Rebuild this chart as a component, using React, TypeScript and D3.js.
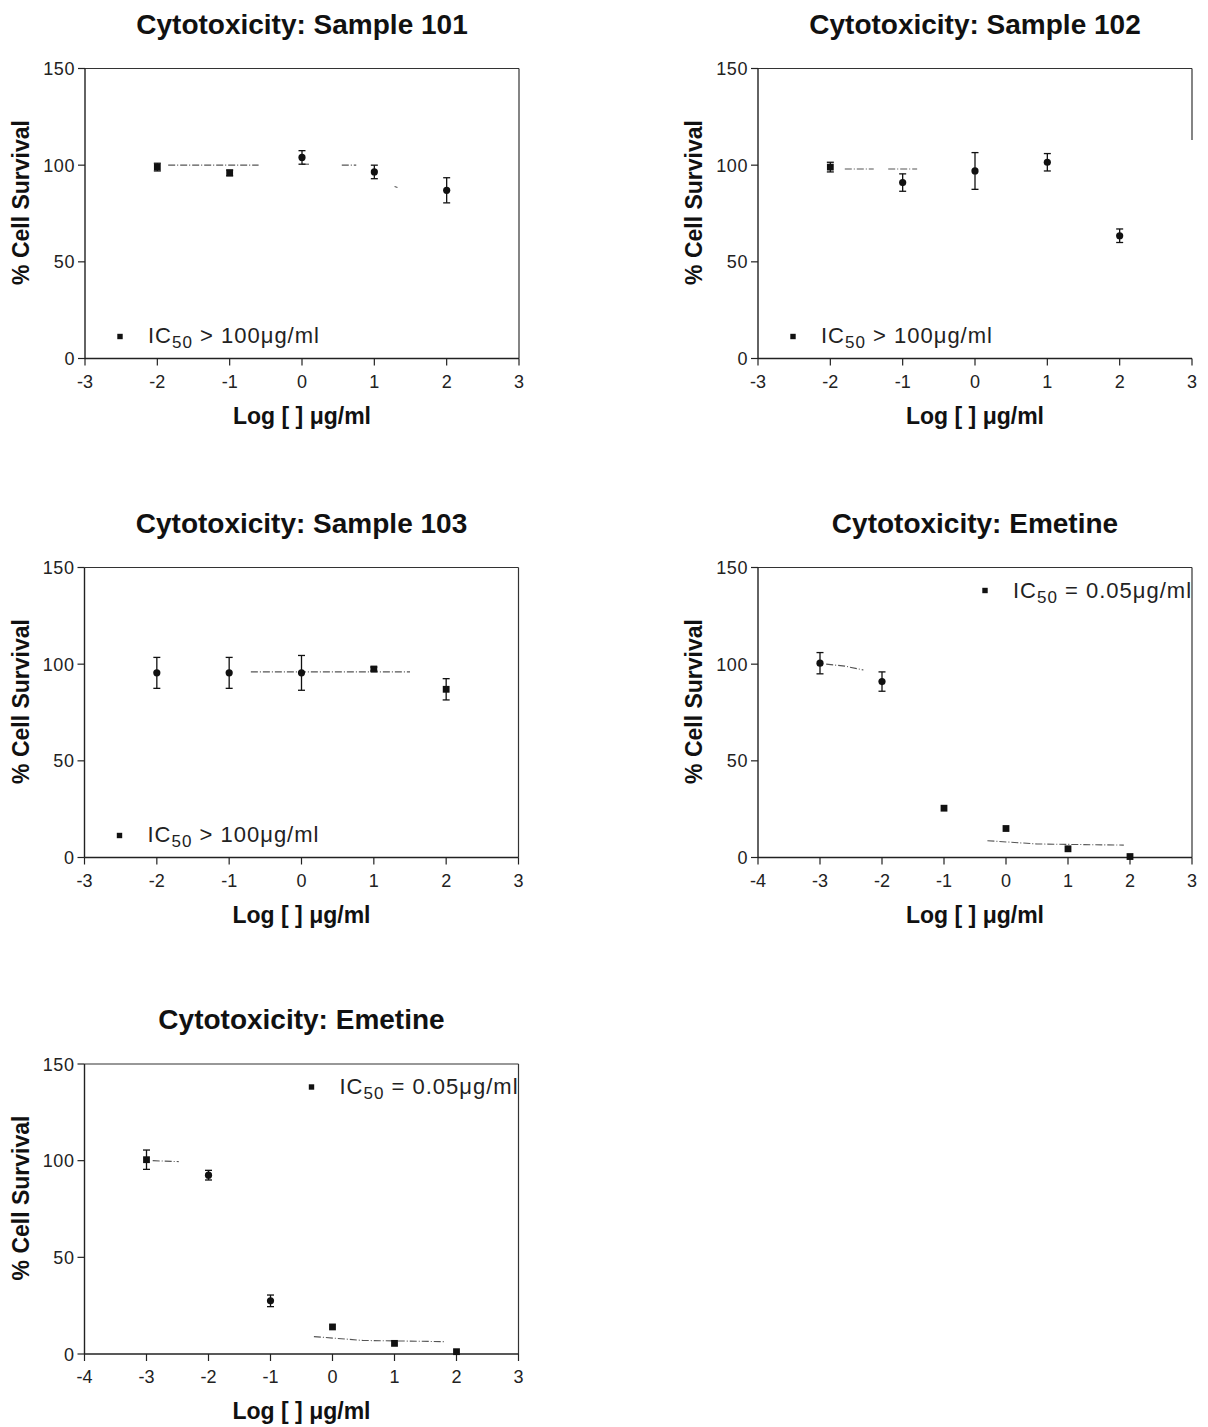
import React from 'react';
import * as d3 from 'd3';

// log concentrations (x) for samples and emetine
const logConcSample = [-2, -1, 0, 1, 2];
const logConcEmetine = [-3, -2, -1, 0, 1, 2];

// % cell survival, +/- error, marker shape
const survival101 = [99, 96, 104, 96.5, 87];
const err101 = [2, 1.5, 3.5, 3.5, 6.5];
const shape101 = ['s', 's', 'c', 'c', 'c'];

const survival102 = [99, 91, 97, 101.5, 63.5];
const err102 = [2.5, 4.5, 9.5, 4.5, 3.5];
const shape102 = ['s', 'c', 'c', 'c', 'c'];

const survival103 = [95.5, 95.5, 95.5, 97.5, 87];
const err103 = [8, 8, 9, 1, 5.5];
const shape103 = ['c', 'c', 'c', 's', 's'];

const survivalEm1 = [100.5, 91, 25.5, 15, 4.5, 0.5];
const errEm1 = [5.5, 5, 0, 0, 0, 0];
const shapeEm1 = ['c', 'c', 's', 's', 's', 's'];

const survivalEm2 = [100.5, 92.5, 27.5, 14, 5.5, 1.2];
const errEm2 = [5, 2.5, 3, 0, 0, 0];
const shapeEm2 = ['s', 'c', 'c', 's', 's', 's'];

// visible fragments of the fitted curves
const fit101 = [[[-1.85, 100], [-0.6, 100]], [[0, 100.5], [0.1, 100.5]], [[0.55, 100], [0.75, 100]], [[1.28, 89], [1.32, 88.5]]];
const fit102 = [[[-1.8, 98], [-1.4, 98]], [[-1.2, 98], [-0.8, 98]]];
const fit103 = [[[-0.7, 96], [1.5, 96]]];
const fitEm1 = [[[-2.9, 100], [-2.6, 99], [-2.3, 97]], [[-0.3, 8.7], [0.5, 7], [1.9, 6.4]]];
const fitEm2 = [[[-2.9, 100], [-2.48, 99.5]], [[-0.3, 9], [0.5, 7], [1.8, 6.4]]];

const yTicks = [0, 50, 100, 150];

const panels = [
  { title: 'Cytotoxicity: Sample 101', x: logConcSample, y: survival101, e: err101, s: shape101, fit: fit101, xDom: [-3, 3], legend: 'gt', pos: 'bl', left: 85, top: 68.5 },
  { title: 'Cytotoxicity: Sample 102', x: logConcSample, y: survival102, e: err102, s: shape102, fit: fit102, xDom: [-3, 3], legend: 'gt', pos: 'bl', left: 758, top: 68.5, rightTo: 113 },
  { title: 'Cytotoxicity: Sample 103', x: logConcSample, y: survival103, e: err103, s: shape103, fit: fit103, xDom: [-3, 3], legend: 'gt', pos: 'bl', left: 84.5, top: 567.5 },
  { title: 'Cytotoxicity: Emetine', x: logConcEmetine, y: survivalEm1, e: errEm1, s: shapeEm1, fit: fitEm1, xDom: [-4, 3], legend: 'eq', pos: 'tr', left: 758, top: 567.5 },
  { title: 'Cytotoxicity: Emetine', x: logConcEmetine, y: survivalEm2, e: errEm2, s: shapeEm2, fit: fitEm2, xDom: [-4, 3], legend: 'eq', pos: 'tr', left: 84.5, top: 1064 },
];

const W = 434;
const H = 290;
const FONT = '"Liberation Sans", Arial, Helvetica, sans-serif';

const Panel = ({ p }) => {
  const x = d3.scaleLinear().domain(p.xDom).range([0, W]);
  const y = d3.scaleLinear().domain([0, 150]).range([H, 0]);
  const xTicks = d3.range(p.xDom[0], p.xDom[1] + 1);
  const line = d3.line().x(d => x(d[0])).y(d => y(d[1]));
  const lx = p.pos === 'bl' ? 35 : 227;
  const ly = p.pos === 'bl' ? H - 22 : 23;
  const tx = p.pos === 'bl' ? 63 : 255;
  const ty = p.pos === 'bl' ? H - 15.5 : 30;
  return (
    <g transform={`translate(${p.left},${p.top})`} fontFamily={FONT}>
      <text x={W / 2} y={-35} textAnchor="middle" fontSize={28} fontWeight="bold" fill="#111">{p.title}</text>
      {/* frame */}
      <line x1={0} x2={W} y1={0} y2={0} stroke="#333" strokeWidth={1.2} />
      <line x1={W} x2={W} y1={0} y2={p.rightTo ? y(p.rightTo) : H} stroke="#333" strokeWidth={1.2} />
      <line x1={0} x2={0} y1={0} y2={H} stroke="#222" strokeWidth={1.4} />
      <line x1={0} x2={W} y1={H} y2={H} stroke="#222" strokeWidth={1.4} />
      {yTicks.map(t => (
        <g key={t} transform={`translate(0,${y(t)})`}>
          <line x1={-7} x2={0} stroke="#222" strokeWidth={1.2} />
          <text x={-10} dy={6.5} textAnchor="end" fontSize={18} letterSpacing={0.6} fill="#222">{t}</text>
        </g>
      ))}
      {xTicks.map(t => (
        <g key={t} transform={`translate(${x(t)},${H})`}>
          <line y1={0} y2={7} stroke="#222" strokeWidth={1.2} />
          <text y={29} textAnchor="middle" fontSize={18} fill="#222">{t}</text>
        </g>
      ))}
      <text x={W / 2} y={H + 65} textAnchor="middle" fontSize={23} fontWeight="bold" fill="#111">Log [ ] μg/ml</text>
      <text transform={`translate(-56,${134}) rotate(-90)`} textAnchor="middle" fontSize={23} fontWeight="bold" fill="#111">% Cell Survival</text>
      {/* fitted curve fragments */}
      {p.fit.map((seg, i) => (
        <path key={i} d={line(seg)} fill="none" stroke="#555" strokeWidth={1.1} strokeDasharray="7,2,1,2" />
      ))}
      {/* error bars + points */}
      {p.x.map((xv, i) => {
        const cx = x(xv);
        const cy = y(p.y[i]);
        const e = p.e[i];
        return (
          <g key={i}>
            {e > 0 && (
              <g stroke="#111" strokeWidth={1.3}>
                <line x1={cx} x2={cx} y1={y(p.y[i] + e)} y2={y(p.y[i] - e)} />
                <line x1={cx - 3.5} x2={cx + 3.5} y1={y(p.y[i] + e)} y2={y(p.y[i] + e)} />
                <line x1={cx - 3.5} x2={cx + 3.5} y1={y(p.y[i] - e)} y2={y(p.y[i] - e)} />
              </g>
            )}
            {p.s[i] === 's'
              ? <rect x={cx - 3.4} y={cy - 3.4} width={6.8} height={6.8} fill="#111" />
              : <circle cx={cx} cy={cy} r={3.6} fill="#111" />}
          </g>
        );
      })}
      {/* legend */}
      <rect x={lx - 2.7} y={ly - 2.7} width={5.4} height={5.4} fill="#111" />
      <text x={tx} y={ty} fontSize={22} letterSpacing={1} fill="#222">
        IC<tspan dy={5} fontSize={17}>50</tspan>
        <tspan dy={-5}>{p.legend === 'gt' ? ' > 100μg/ml' : ' = 0.05μg/ml'}</tspan>
      </text>
    </g>
  );
};

const App = () => (
  <svg width={1208} height={1427} style={{ position: 'absolute', left: 0, top: 0, background: '#fff' }}>
    {panels.map((p, i) => <Panel key={i} p={p} />)}
  </svg>
);

export default App;
